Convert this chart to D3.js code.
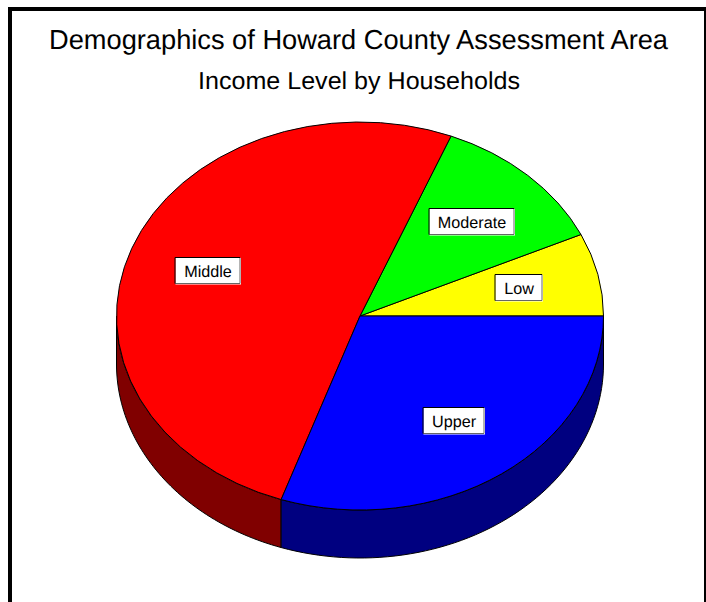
<!DOCTYPE html>
<html><head><meta charset="utf-8">
<script src="https://cdn.jsdelivr.net/npm/d3@7"></script>
<style>html,body{margin:0;padding:0;background:#fff}svg{display:block}text{font-family:"Liberation Sans",Arial,sans-serif;fill:#000;text-rendering:geometricPrecision}</style>
</head><body><div id="c"></div>
<script>
const categories=["Low","Moderate","Middle","Upper"];
const values=[6.9,12.0,50.85,30.25];
const topColors=["#ffff00","#00ff00","#ff0000","#0000ff"];
const sideColors=["#808000","#008000","#800000","#000080"];
const titleText="Demographics of Howard County Assessment Area";
const subtitleText="Income Level by Households";

const W=706,H=602,cx=360,cy=316,rx=243.5,ry=194,depth=48;
const svg=d3.select("#c").append("svg").attr("width",W).attr("height",H);
svg.append("path").attr("d",`M10,${H}V9H705`).attr("fill","none").attr("stroke","#000").attr("stroke-width",4);
svg.append("rect").attr("x",704).attr("y",7).attr("width",2).attr("height",H-7).attr("fill","#000");

svg.append("text").attr("x",358.5).attr("y",49).attr("text-anchor","middle").attr("font-size",27.5).attr("textLength",619).attr("lengthAdjust","spacingAndGlyphs").text(titleText);
svg.append("text").attr("x",359).attr("y",89).attr("text-anchor","middle").attr("font-size",24.5).attr("textLength",322).attr("lengthAdjust","spacingAndGlyphs").text(subtitleText);

const pie=d3.pie().sort(null).startAngle(Math.PI/2).endAngle(Math.PI/2+2*Math.PI).value(d=>d);
// Slices run counter-clockwise from 3 o'clock: mirror the clockwise angles of d3.pie
const arcs=pie(values).map(a=>({start:Math.PI-a.startAngle,end:Math.PI-a.endAngle}));
const px=t=>cx+rx*Math.sin(t), py=t=>cy-ry*Math.cos(t);
const g=svg.append("g");

const line=d3.line().x(d=>d[0]).y(d=>d[1]);
arcs.forEach((a,i)=>{
  const lo=Math.min(a.start,a.end), hi=Math.max(a.start,a.end);
  // the front of the drum is the lower half of the ellipse
  const s=Math.max(lo,-3*Math.PI/2), e=Math.min(hi,-Math.PI/2);
  if(e<=s) return;
  const ts=d3.range(0,61).map(k=>s+(e-s)*k/60);
  const up=ts.map(t=>[px(t),py(t)]);
  const dn=ts.slice().reverse().map(t=>[px(t),py(t)+depth]);
  g.append("path").attr("d",line(up.concat(dn))+"Z").attr("fill",sideColors[i]).attr("stroke","#000").attr("stroke-width",1);
});

const arc=d3.arc().innerRadius(0).outerRadius(rx);
const face=g.append("g").attr("transform",`translate(${cx},${cy}) scale(1,${ry/rx})`);
arcs.forEach((a,i)=>{
  face.append("path").attr("d",arc({startAngle:a.start,endAngle:a.end})).attr("fill",topColors[i])
   .attr("stroke","#000").attr("stroke-width",1).attr("vector-effect","non-scaling-stroke");
});

// labels sit at two thirds of the radius on each slice's middle angle
arcs.forEach((a,i)=>{
  const m=(a.start+a.end)/2;
  const x=Math.round(cx+rx*2/3*Math.sin(m)), y=Math.round(cy-ry*2/3*Math.cos(m));
  const lg=svg.append("g").attr("transform",`translate(${x},${y})`);
  const t=lg.append("text").attr("text-anchor","middle").attr("y",5.5).attr("font-size",16.2).text(categories[i]);
  const w=Math.round(t.node().getComputedTextLength())+17,h=26;
  const x0=-w/2-.5,y0=-h/2-.5;
  lg.insert("rect","text").attr("x",x0+.5).attr("y",y0+.5).attr("width",w+.5).attr("height",h+.5).attr("fill","#fff");
  lg.insert("path","text").attr("d",`M${x0},${y0+h}H${x0+w}V${y0}`).attr("fill","none").attr("stroke","#666").attr("stroke-width",1);
  lg.insert("path","text").attr("d",`M${x0},${y0+h}V${y0}H${x0+w}`).attr("fill","none").attr("stroke","#000").attr("stroke-width",1);
});
</script></body></html>
